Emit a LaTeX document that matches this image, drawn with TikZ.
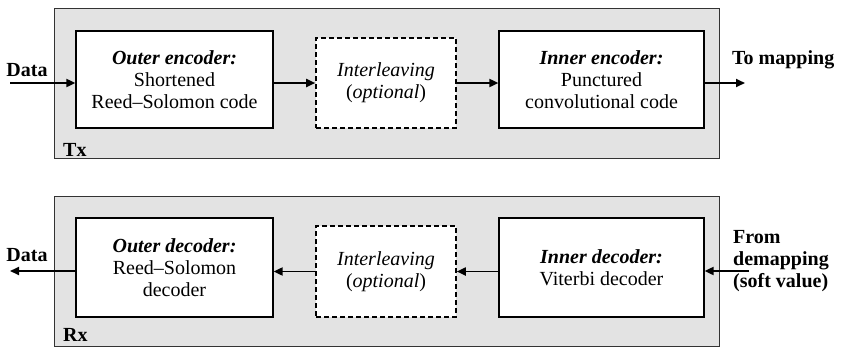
\documentclass[tikz,border=0pt]{standalone}
\usepackage{fontspec}
\setmainfont{Liberation Serif}
\usetikzlibrary{arrows.meta}
\begin{document}
\begin{tikzpicture}[x=1pt,y=-1pt,
  panel/.style={draw=black!80,line width=0.9pt,fill=black!11,minimum width=665pt,minimum height=150pt,inner sep=0pt},
  block/.style={draw=black,line width=1.2pt,fill=white,align=center,inner sep=0pt,font=\fontsize{20}{22}\selectfont},
  optbox/.style={block,dashed,dash pattern=on 5pt off 3pt,line width=1.6pt},
  lbl/.style={font=\fontsize{20}{22}\selectfont\bfseries,inner sep=0pt,align=left},
  flow/.style={line width=1.8pt,-{Triangle[length=9pt,width=8pt]}}]
\useasboundingbox (0,0) rectangle (847,349);
% Tx
\node[panel] (tx) at (386.5,83) {};
\node[lbl,anchor=west] (txl) at (63,150) {Tx};
\node[block,minimum width=197pt,minimum height=97pt] (oe) at (174.5,79.5)
  {\textbf{\textit{Outer encoder:}}\\Shortened\\Reed–Solomon code};
\node[optbox,minimum width=140pt,minimum height=90pt] (il1) at (386,83)
  {\textit{Interleaving}\\(\textit{optional})};
\node[block,minimum width=205pt,minimum height=97pt] (ie) at (601.5,79.5)
  {\textbf{\textit{Inner encoder:}}\\Punctured\\convolutional code};
\node[lbl] (din) at (27,70) {Data};
\node[lbl,anchor=west] (tom) at (732,60) {To mapping};
\coordinate (dinstart) at (10,83);
\coordinate (tomend) at (745,83);
\draw[flow] (dinstart) -- (dinstart -| oe.west);
\draw[flow] (oe.east |- il1.west) -- (il1.west);
\draw[flow] (il1.east) -- (ie.west |- il1.east);
\draw[flow] (ie.east |- tomend) -- (tomend);
% Rx
\node[panel] (rx) at (386.5,271) {};
\node[lbl,anchor=west] (rxl) at (63,335) {Rx};
\node[block,minimum width=197pt,minimum height=99pt] (od) at (174.5,267.5)
  {\textbf{\textit{Outer decoder:}}\\Reed–Solomon\\decoder};
\node[optbox,minimum width=140pt,minimum height=91pt] (il2) at (386,271.5)
  {\textit{Interleaving}\\(\textit{optional})};
\node[block,minimum width=205pt,minimum height=99pt] (id) at (601.5,267.5)
  {\textbf{\textit{Inner decoder:}}\\Viterbi decoder};
\node[lbl] (dout) at (27,255) {Data};
\node[lbl,anchor=west] (fdm) at (733,261) {From\\demapping\\(soft value)};
\coordinate (doutend) at (10,271);
\coordinate (fdmstart) at (749,271);
\draw[flow] (doutend -| od.west) -- (doutend);
\draw[flow] (il2.west) -- (od.east |- il2.west);
\draw[flow] (id.west |- il2.east) -- (il2.east);
\draw[flow] (fdmstart) -- (fdmstart -| id.east);
\end{tikzpicture}
\end{document}
